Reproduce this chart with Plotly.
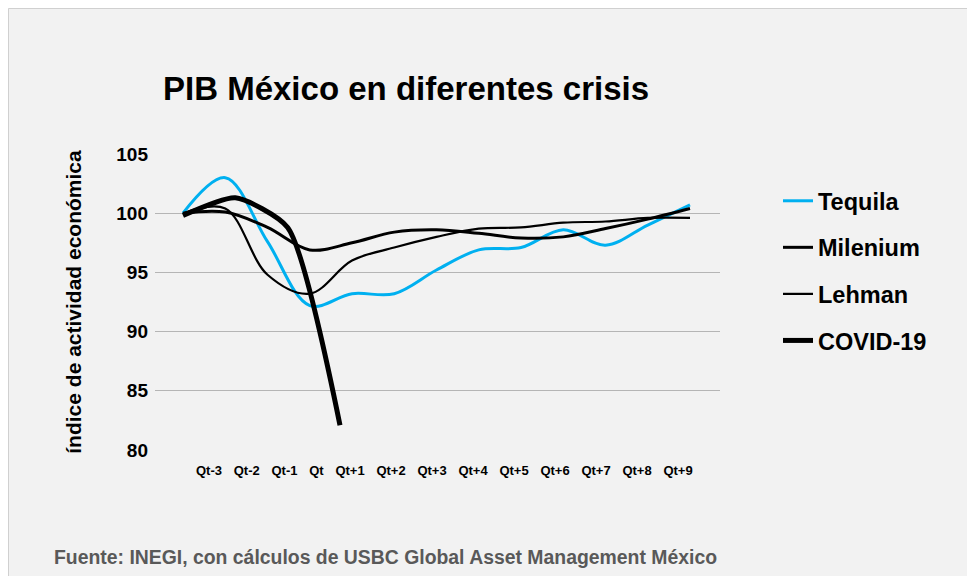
import plotly.graph_objects as go

# ---------------- data ----------------
categories = ["Qt-3", "Qt-2", "Qt-1", "Qt", "Qt+1", "Qt+2", "Qt+3",
              "Qt+4", "Qt+5", "Qt+6", "Qt+7", "Qt+8", "Qt+9"]
tequila = [100.0, 103.0, 97.6, 92.2, 93.2, 93.2, 95.2, 96.9, 97.1, 98.6, 97.3, 99.0, 100.7]
milenium = [100.0, 100.1, 98.8, 96.9, 97.5, 98.4, 98.6, 98.3, 97.9, 98.0, 98.7, 99.5, 100.4]
lehman = [100.0, 100.4, 94.8, 93.2, 96.0, 97.1, 98.0, 98.7, 98.8, 99.2, 99.3, 99.6, 99.6]
covid_categories = ["Qt-3", "Qt-2", "Qt-1", "Qt"]
covid = [99.8, 101.3, 98.8, 82.1]
y_ticks = [80, 85, 90, 95, 100, 105]

# ---------------- layout geometry (figure pixels) ----------------
W, H = 967, 568
L, R, T, B = 147, 712, 146, 442
PW, PH = R - L, B - T
X0 = 175            # pixel of first data point
STEP = 42.25        # pixel spacing between quarters
STEP_COVID = 52.33  # covid series drawn on its own (wider) category scale


def px_x(px):
    return (px - L) / PW


def px_y(py):
    return (B - py) / PH


idx = list(range(len(categories)))
cidx = list(range(len(covid_categories)))

# tick labels laid out like a text row: width of each label + constant gap
CW = {"Q": .778, "t": .333, "-": .333, "+": .584}
XT_FONT = 13


def tw(s):
    return sum(CW.get(c, .556) for c in s) * XT_FONT


first_px, last_px = 201, 670
widths = [tw(c) for c in categories]
inner = widths[0] / 2 + widths[-1] / 2 + sum(widths[1:-1])
gap = (last_px - first_px - inner) / (len(categories) - 1)
centers = [first_px]
for i in range(1, len(categories)):
    centers.append(centers[-1] + widths[i - 1] / 2 + widths[i] / 2 + gap)
tickvals = [(c - X0) / STEP for c in centers]

FONT = "Liberation Sans, Arial, sans-serif"

fig = go.Figure()
fig.add_trace(go.Scatter(x=idx, y=tequila, name="Tequila", mode="lines",
                         line=dict(color="#00b0f0", width=3, shape="spline", smoothing=1.0),
                         customdata=categories, legendgroup="a"))
fig.add_trace(go.Scatter(x=idx, y=milenium, name="Milenium", mode="lines",
                         line=dict(color="#000000", width=3, shape="spline", smoothing=1.0),
                         customdata=categories, legendgroup="b"))
fig.add_trace(go.Scatter(x=idx, y=lehman, name="Lehman", mode="lines",
                         line=dict(color="#000000", width=2.2, shape="spline", smoothing=1.0),
                         customdata=categories, legendgroup="c"))
fig.add_trace(go.Scatter(x=cidx, y=covid, name="COVID-19", mode="lines",
                         line=dict(color="#000000", width=5, shape="spline", smoothing=0.6),
                         customdata=covid_categories, xaxis="x2", legendgroup="d"))

fig.update_layout(
    width=W, height=H,
    margin=dict(l=L, r=W - R, t=T, b=H - B, pad=0),
    paper_bgcolor="#f2f2f2",
    plot_bgcolor="#f2f2f2",
    font=dict(family=FONT, color="#000000"),
    title=dict(text="<b>PIB México en diferentes crisis</b>",
               xref="container", yref="container",
               x=155 / W, xanchor="left", y=1 - 80 / H, yanchor="middle",
               font=dict(size=33, family=FONT, color="#000000")),
    xaxis=dict(range=[(L - X0) / STEP, (R - X0) / STEP],
               tickmode="array", tickvals=tickvals, ticktext=categories,
               tickfont=dict(size=XT_FONT, family=FONT, color="#000000", weight="bold"),
               ticklabelstandoff=11,
               showgrid=False, zeroline=False, showline=False, ticks=""),
    xaxis2=dict(range=[(L - X0) / STEP_COVID, (R - X0) / STEP_COVID],
                overlaying="x", visible=False, showgrid=False, zeroline=False),
    yaxis=dict(range=[80, 105], tickmode="array", tickvals=y_ticks,
               tickfont=dict(size=19, family=FONT, color="#000000", weight="bold"),
               ticklabelstandoff=6,
               showgrid=True, gridcolor="#b5b5b5", gridwidth=1,
               zeroline=False, showline=False, ticks="",
               title=dict(text="<b>índice de actividad económica</b>",
                          font=dict(size=21, family=FONT, color="#000000"),
                          standoff=28)),
    legend=dict(x=px_x(770), xanchor="left", y=px_y(171), yanchor="top",
                bgcolor="rgba(0,0,0,0)", tracegroupgap=13,
                font=dict(size=23.5, family=FONT, color="#000000", weight="bold")),
    showlegend=True,
    shapes=[dict(type="rect", xref="paper", yref="paper", layer="below",
                 x0=px_x(0.5), x1=px_x(990), y0=px_y(600), y1=px_y(0.5),
                 fillcolor="#f2f2f2", line=dict(color="#d0d0d0", width=1))],
    annotations=[dict(text="<b>Fuente: INEGI, con cálculos de USBC Global Asset Management México</b>",
                      xref="paper", yref="paper", x=px_x(44), xanchor="left",
                      y=px_y(549), yanchor="middle", showarrow=False,
                      font=dict(size=19.4, family=FONT, color="#595959"))],
)

fig.write_html("out.html")
